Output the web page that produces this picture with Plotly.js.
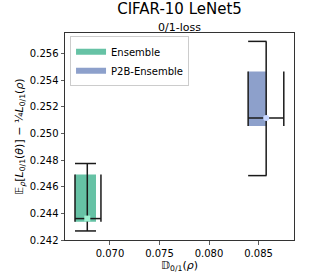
<!DOCTYPE html>
<html>
<head>
<meta charset="utf-8">
<script src="https://cdn.plot.ly/plotly-3.0.1.min.js"></script>
<style>html,body{margin:0;padding:0;background:#fff;}#chart{width:327px;height:273px;}</style>
</head>
<body>
<div id="chart"></div>
<script>
// ---- data ----
var methods = ['Ensemble', 'P2B-Ensemble'];
var fillColors = ['#66c2a5', '#8da0cb'];
var pointColors = ['#9ef2d2', '#c6d6ff'];
var pointX = [0.06771, 0.08577];
var pointY = [0.24361, 0.25118];
var boxXLow = [0.06647, 0.08395];
var boxXHigh = [0.06859, 0.08581];
var boxYLow = [0.24338, 0.25057];
var boxYHigh = [0.24692, 0.25466];
var errYLow = [0.24268, 0.24684];
var errYHigh = [0.24775, 0.25693];
var errXLow = [0.06647, 0.08395];
var errXHigh = [0.06909, 0.08755];
var yTicks = [0.242, 0.244, 0.246, 0.248, 0.250, 0.252, 0.254, 0.256];
var xTicks = [0.070, 0.075, 0.080, 0.085];

var traces = [];
// boxes
methods.forEach(function (m, i) {
  traces.push({
    type: 'scatter', mode: 'none', name: m, showlegend: true,
    x: [boxXLow[i], boxXHigh[i], boxXHigh[i], boxXLow[i], boxXLow[i]],
    y: [boxYLow[i], boxYLow[i], boxYHigh[i], boxYHigh[i], boxYLow[i]],
    fill: 'toself', fillcolor: fillColors[i], line: {width: 0},
    hoverinfo: 'skip'
  });
});
// error bars with caps spanning the box
methods.forEach(function (m, i) {
  var px = pointX[i], py = pointY[i];
  traces.push({
    type: 'scatter', mode: 'lines', showlegend: false, hoverinfo: 'skip',
    x: [px, px, null,
        boxXLow[i], boxXHigh[i], null,
        boxXLow[i], boxXHigh[i], null,
        errXLow[i], errXHigh[i], null,
        errXLow[i], errXLow[i], null,
        errXHigh[i], errXHigh[i]],
    y: [errYLow[i], errYHigh[i], null,
        errYHigh[i], errYHigh[i], null,
        errYLow[i], errYLow[i], null,
        py, py, null,
        boxYLow[i], boxYHigh[i], null,
        boxYLow[i], boxYHigh[i]],
    line: {color: '#1a1a1a', width: 1.5}
  });
});
// points
methods.forEach(function (m, i) {
  traces.push({
    type: 'scatter', mode: 'markers', showlegend: false, hoverinfo: 'skip',
    x: [pointX[i]], y: [pointY[i]],
    marker: {color: pointColors[i], size: 6, symbol: i === 0 ? 'square' : 'circle', line: {width: 0}}
  });
});

var font = 'DejaVu Sans, sans-serif';
var layout = {
  width: 327, height: 273,
  margin: {l: 65, r: 33, t: 33, b: 33},
  paper_bgcolor: '#fff', plot_bgcolor: '#fff',
  font: {family: font, size: 10, color: '#000'},
  title: {
    text: 'CIFAR-10 LeNet5',
    font: {family: font, size: 15, color: '#000'},
    x: 0.5, xanchor: 'center', xref: 'paper',
    y: 0.967, yanchor: 'middle', yref: 'container'
  },
  annotations: [{
    text: '0/1-loss', showarrow: false,
    xref: 'paper', yref: 'paper', x: 0.5, y: 1.0, yshift: -2, borderpad: 0,
    xanchor: 'center', yanchor: 'bottom',
    font: {family: font, size: 11, color: '#000'}
  }],
  showlegend: true,
  legend: {
    x: 0.022, y: 0.984, xanchor: 'left', yanchor: 'top',
    bgcolor: 'rgba(255,255,255,0.8)', bordercolor: '#cccccc', borderwidth: 1,
    font: {family: font, size: 10, color: '#000'},
    tracegroupgap: 0, itemwidth: 30
  },
  xaxis: {
    range: [0.06546, 0.08858],
    tickvals: xTicks, tickformat: '.3f',
    ticks: 'outside', ticklen: 3.5, tickwidth: 0.8, tickcolor: '#333',
    showline: true, linecolor: '#333', linewidth: 1, mirror: true,
    showgrid: false, zeroline: false,
    tickfont: {family: font, size: 10, color: '#000'},
    title: {text: '𝔻<sub>0/1</sub>(<i>ρ</i>)', font: {family: font, size: 11, color: '#000'}, standoff: 4}
  },
  yaxis: {
    range: [0.242, 0.25756],
    tickvals: yTicks, tickformat: '.3f',
    ticks: 'outside', ticklen: 3.5, tickwidth: 0.8, tickcolor: '#333',
    showline: true, linecolor: '#333', linewidth: 1, mirror: true,
    showgrid: false, zeroline: false,
    tickfont: {family: font, size: 10, color: '#000'},
    title: {text: '𝔼<sub><i>ρ</i></sub>[<i>L</i><sub>0/1</sub>(<i>θ</i>)] − ¼<i>L</i><sub>0/1</sub>(<i>ρ</i>)', font: {family: font, size: 11, color: '#000'}, standoff: 4}
  }
};

Plotly.newPlot('chart', traces, layout, {staticPlot: true, displayModeBar: false});
</script>
</body>
</html>
